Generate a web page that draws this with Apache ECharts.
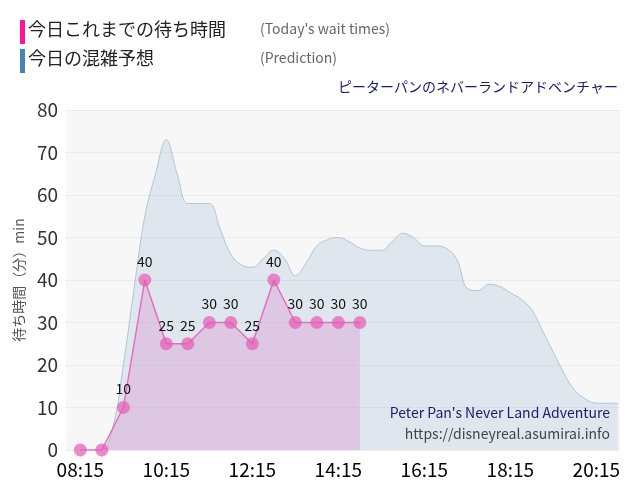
<!DOCTYPE html>
<html><head><meta charset="utf-8">
<script src="https://cdn.jsdelivr.net/npm/echarts@6/dist/echarts.min.js"></script>
<style>body{margin:0}#chart{width:640px;height:500px}</style>
</head><body><div id="chart"></div>
<script>
// 分: 08:15 からの経過時間
var waitTimes = [0, 30, 60, 90, 120, 150, 180, 210, 240, 270, 300, 330, 360, 390];
var waitValues = [0, 0, 10, 40, 25, 25, 30, 30, 25, 40, 30, 30, 30, 30];
var predValues = [0, 0, 0, 5, 20, 38, 55, 65, 73, 65, 58, 58, 58, 52, 46, 43.5, 43, 45, 47, 45, 41, 44, 48, 49.5,
    50, 49, 47.5, 47, 47, 49, 51, 50, 48, 48, 47.5, 45, 38, 37.5, 39, 38.5, 37, 35.5, 33, 28, 23, 18, 14, 12, 11, 11, 11];
var xTicks = ['08:15', '10:15', '12:15', '14:15', '16:15', '18:15', '20:15'];

var chart = echarts.init(document.getElementById('chart'));
var font = '"Noto Sans CJK JP", sans-serif';

var wait = waitTimes.map(function (t, i) { return [t, waitValues[i]]; });
var waitArea = wait.concat([[390, 0]]);
var pred = predValues.map(function (v, i) { return [i * 15, v]; });

chart.setOption({
    animation: false,
    textStyle: { fontFamily: font },
    graphic: [
        { type: 'rect', left: 20, top: 20, shape: { width: 5, height: 24 }, style: { fill: '#ff1493' } },
        { type: 'text', left: 28, top: 20, style: { text: '今日これまでの待ち時間', font: '18px ' + font, fill: '#222' } },
        { type: 'text', left: 260, top: 22, style: { text: "(Today's wait times)", font: '14px ' + font, fill: '#666' } },
        { type: 'rect', left: 20, top: 49, shape: { width: 5, height: 24 }, style: { fill: '#4682b4' } },
        { type: 'text', left: 28, top: 49, style: { text: '今日の混雑予想', font: '18px ' + font, fill: '#222' } },
        { type: 'text', left: 260, top: 51, style: { text: '(Prediction)', font: '14px ' + font, fill: '#666' } },
        { type: 'text', right: 22, top: 80, style: { text: 'ピーターパンのネバーランドアドベンチャー', font: '14px ' + font, fill: '#1a1a6e' } },
        { type: 'text', right: 30, top: 406, z: 10, style: { text: "Peter Pan's Never Land Adventure", font: '14px ' + font, fill: '#1a1a6e' } },
        { type: 'text', right: 30, top: 427, z: 10, style: { text: 'https://disneyreal.asumirai.info', font: '14px ' + font, fill: '#444' } }
    ],
    grid: { left: 66, right: 20, top: 110, bottom: 50, backgroundColor: '#f7f7f7', show: true, borderWidth: 0 },
    xAxis: {
        type: 'value', min: -20, max: 753, interval: 120,
        axisLine: { show: false }, axisTick: { show: false },
        axisLabel: {
            fontSize: 19, color: '#000', margin: 10,
            formatter: function (v) { return v >= 0 && v % 120 === 0 ? xTicks[v / 120] : ''; },
            customValues: [0, 120, 240, 360, 480, 600, 720]
        },
        splitLine: { show: false }
    },
    yAxis: {
        type: 'value', min: 0, max: 80, interval: 10,
        name: '待ち時間（分）min', nameLocation: 'middle', nameGap: 40,
        nameTextStyle: { fontSize: 14, color: '#555' },
        axisLine: { show: false }, axisTick: { show: false },
        axisLabel: { fontSize: 19, color: '#333' },
        splitLine: { lineStyle: { color: '#ddd', type: 'dotted' } }
    },
    series: [
        {
            type: 'line', data: pred, smooth: 0.4, symbol: 'none',
            lineStyle: { color: '#b0c4d8', width: 1 },
            areaStyle: { color: 'rgba(176,196,216,0.45)' }
        },
        {
            type: 'line', data: waitArea, symbol: 'none',
            lineStyle: { width: 0 },
            areaStyle: { color: 'rgba(220,120,200,0.4)' }
        },
        {
            type: 'line', data: wait, symbol: 'circle', symbolSize: 13,
            itemStyle: { color: 'rgba(230,90,180,0.7)' },
            lineStyle: { color: '#e070c0', width: 1.5 },
            label: {
                show: true, position: 'top', fontSize: 14, color: '#111',
                formatter: function (p) { return p.dataIndex >= 2 ? p.value[1] : ''; }
            }
        }
    ]
});
</script></body></html>
